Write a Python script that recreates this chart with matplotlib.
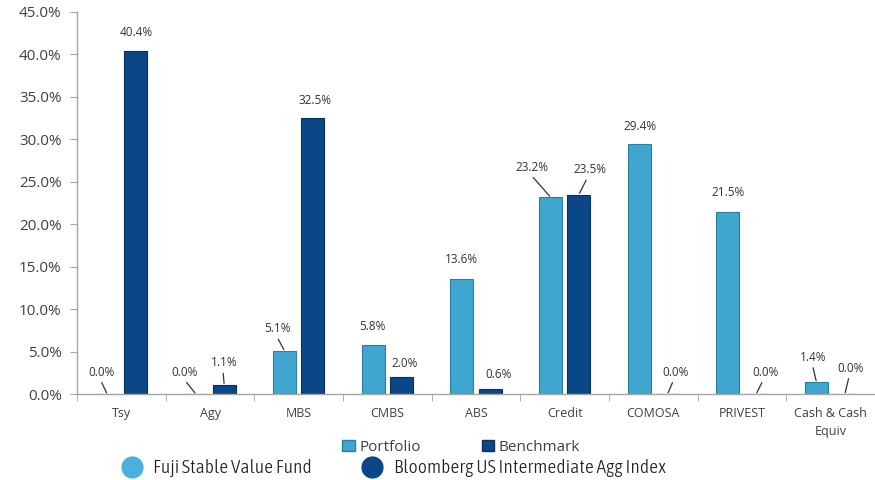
import numpy as np
import matplotlib.pyplot as plt
from matplotlib import font_manager
from matplotlib.lines import Line2D
from matplotlib.patches import Patch

categories = ['Tsy', 'Agy', 'MBS', 'CMBS', 'ABS', 'Credit', 'COMOSA', 'PRIVEST', 'Cash & Cash\nEquiv']
portfolio = [0.0, 0.0, 5.1, 5.8, 13.6, 23.2, 29.4, 21.5, 1.4]
benchmark = [40.4, 1.1, 32.5, 2.0, 0.6, 23.5, 0.0, 0.0, 0.0]
y_ticks = [0, 5, 10, 15, 20, 25, 30, 35, 40, 45]

# label offsets in pixels (dx, dy) from bar top, and whether a leader line is drawn
port_offsets = [(-6, 22, True), (-11, 22, True), (-7, 22, True), (-1, 18, False), (0, 19, False),
                (-19, 30, True), (1, 18, False), (0, 19, False), (-3, 25, True)]
bench_offsets = [(1, 19, False), (0, 22, True), (2, 18, False), (3, 14, False), (8, 14, False),
                 (11, 25, True), (8, 22, True), (9, 22, True), (6, 26, True)]

PORT_COLOR = '#3fa6cf'
PORT_EDGE = '#2a7fa3'
BENCH_COLOR = '#0b4787'
BENCH_EDGE = '#06305e'
GRAY = '#a6a6a6'
TEXT = '#404040'

plt.rcParams['font.family'] = ['Open Sans', 'DejaVu Sans']


def weight_num(wt):
    if isinstance(wt, (int, float)):
        return wt
    return font_manager.weight_dict.get(wt, 400)


def find_narrow_font():
    # look for a light/regular condensed face among the installed fonts
    cands = []
    for f in font_manager.fontManager.ttflist:
        name = f.name.lower()
        stretch = str(f.stretch).lower()
        cond = ('condensed' in stretch or 'narrow' in stretch or 'condensed' in name
                or 'narrow' in name or 'condensed' in f.fname.lower())
        if not cond or f.style != 'normal':
            continue
        extra = 'extra' in stretch or 'extra' in f.fname.lower() or 'ultra' in f.fname.lower()
        semi = 'semi' in stretch or 'semi' in f.fname.lower()
        score = abs(weight_num(f.weight) - 300) + (300 if extra else 0) + (80 if semi else 0)
        cands.append((score, f.fname))
    if not cands:
        return None
    cands.sort()
    return cands[0][1]


narrow_path = find_narrow_font()
if narrow_path:
    narrow = font_manager.FontProperties(fname=narrow_path, size=14)
else:
    narrow = font_manager.FontProperties(family='Open Sans', size=11)

fig = plt.figure(figsize=(8.75, 4.8), dpi=100)
ax = fig.add_axes([0.088, 0.179, 0.912, 0.796])

x = np.arange(len(categories))
w = 0.26
off = 0.16
ax.bar(x - off, portfolio, width=w, color=PORT_COLOR, edgecolor=PORT_EDGE, linewidth=0.8, label='Portfolio')
ax.bar(x + off, benchmark, width=w, color=BENCH_COLOR, edgecolor=BENCH_EDGE, linewidth=0.8, label='Benchmark')

def add_labels(xs, vals, offsets):
    for xi, v, (dx, dy, lead) in zip(xs, vals, offsets):
        kw = {}
        if lead:
            kw['arrowprops'] = dict(arrowstyle='-', color='#333333', lw=0.9, shrinkA=1, shrinkB=1,
                                    relpos=(0.45, 0.0))
        ax.annotate(f'{v:.1f}%', xy=(xi, v), xytext=(dx * 0.72, dy * 0.72), textcoords='offset points',
                    ha='center', va='center', fontsize=8.5, color='#333333', **kw)

add_labels(x - off, portfolio, port_offsets)
add_labels(x + off, benchmark, bench_offsets)

ax.set_xlim(-0.5, len(categories) - 0.5)
ax.set_ylim(0, 45)
ax.set_yticks(y_ticks)
ax.set_yticklabels([f'{t:.1f}%' for t in y_ticks], fontsize=11, color=TEXT)
ax.set_xticks(x)
ax.set_xticklabels(categories, fontsize=9, color=TEXT, linespacing=1.5)
ax.set_xticks(np.arange(len(categories) + 1) - 0.5, minor=True)
ax.tick_params(axis='x', which='major', length=0, pad=9)
ax.tick_params(axis='x', which='minor', length=5, color=GRAY, direction='out')
ax.tick_params(axis='y', length=5, color=GRAY, direction='out', pad=6)
for s in ['top', 'right']:
    ax.spines[s].set_visible(False)
for s in ['left', 'bottom']:
    ax.spines[s].set_color(GRAY)
    ax.spines[s].set_linewidth(1.0)

leg1 = fig.legend(handles=[Patch(facecolor=PORT_COLOR, edgecolor=PORT_EDGE, label='Portfolio'),
                           Patch(facecolor=BENCH_COLOR, edgecolor=BENCH_EDGE, label='Benchmark')],
                  loc='center', bbox_to_anchor=(0.527, 0.068), ncol=2, frameon=False,
                  handlelength=0.8, handleheight=0.8, handletextpad=0.3, columnspacing=4.0,
                  prop={'size': 11})
for t in leg1.get_texts():
    t.set_color(TEXT)

leg2 = fig.legend(handles=[Line2D([], [], ls='', marker='o', ms=15, color='#4bb0dc', label='Fuji Stable Value Fund'),
                           Line2D([], [], ls='', marker='o', ms=15, color='#0b4787', label='Bloomberg US Intermediate Agg Index')],
                  loc='center', bbox_to_anchor=(0.45, 0.024), ncol=2, frameon=False,
                  handlelength=1.0, handletextpad=0.6, columnspacing=2.6,
                  prop=narrow)
for t in leg2.get_texts():
    t.set_color('#222222')

fig.savefig('out.png', dpi=100)
